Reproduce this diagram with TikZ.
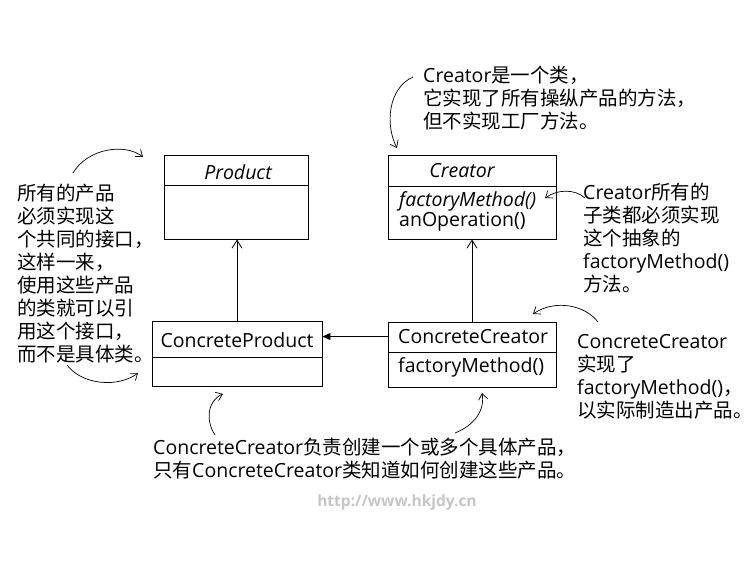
\documentclass[tikz,border=0pt]{standalone}
\usepackage{fontspec}
\setmainfont{Open Sans}
\newfontfamily\cjkf{Noto Sans CJK SC}
\newcommand\zhs[1]{{\cjkf #1}}
\usetikzlibrary{arrows.meta,calc}
\tikzset{
  txt/.style={inner sep=0pt, font=\fontsize{19.5}{23}\selectfont, align=left},
  cls/.style={draw, line width=0.9pt, inner sep=0pt},
  inherit/.style={line width=0.8pt, -{Straight Barb[length=8pt,width=10pt,line width=0.8pt]}},
  assoc/.style={line width=0.8pt, -{Triangle[length=8pt,width=7pt]}},
  note/.style={line width=0.7pt, -{Straight Barb[length=6pt,width=9pt,line width=0.7pt]}},
  wm/.style={inner sep=0pt, font=\fontsize{15.5}{17}\selectfont\bfseries, text=gray!45}
}
\begin{document}
\begin{tikzpicture}[x=1pt,y=-1pt]
\useasboundingbox[fill=white] (0,0) rectangle (756,567);
% class boxes
\node[cls, minimum width=144pt, minimum height=84pt] (product) at (236,197) {};
\node[cls, minimum width=168pt, minimum height=84pt] (creator) at (472,197) {};
\node[cls, minimum width=170pt, minimum height=65pt] (cprod) at (237,353.5) {};
\node[cls, minimum width=168pt, minimum height=65pt] (ccreator) at (472,354.5) {};
\draw[line width=0.9pt] (product.west |- 0,185) -- (product.east |- 0,185);
\draw[line width=0.9pt] (creator.west |- 0,186) -- (creator.east |- 0,186);
\draw[line width=0.9pt] (cprod.west |- 0,357) -- (cprod.east |- 0,357);
\draw[line width=0.9pt] (ccreator.west |- 0,352) -- (ccreator.east |- 0,352);
% class texts
\node[txt] (tproduct) at (238,172) {\itshape Product};
\node[txt] (tcreator) at (462,171) {\itshape Creator};
\node[txt, anchor=west] (tfm1) at (399,201) {\itshape factoryMethod()};
\node[txt, anchor=west] (tanop) at (399,222) {anOperation()};
\node[txt] (tcprod) at (237,340) {ConcreteProduct};
\node[txt, anchor=west] (tccreator) at (398,337) {ConcreteCreator};
\node[txt, anchor=west] (tfm2) at (398,367) {factoryMethod()};
% connectors
\draw[inherit] (cprod.north) -- (cprod.north |- product.south);
\draw[inherit] (ccreator.north) -- (ccreator.north |- creator.south);
\coordinate (assocstart) at ($(ccreator.north west)+(0,15)$);
\draw[assoc] (assocstart) -- (cprod.east |- assocstart);
% notes
\node[txt, anchor=north west] (nleft) at (17,184) {\zhs{所有的产品}\\\zhs{必须实现这}\\\zhs{个共同的接口，}\\\zhs{这样一来，}\\\zhs{使用这些产品}\\\zhs{的类就可以引}\\\zhs{用这个接口，}\\\zhs{而不是具体类。}};
\node[txt, anchor=north west] (ntop) at (423,66) {Creator\zhs{是一个类，}\\\zhs{它实现了所有操纵产品的方法，}\\\zhs{但不实现工厂方法。}};
\node[txt, anchor=north west] (nright) at (583,183) {Creator\zhs{所有的}\\\zhs{子类都必须实现}\\\zhs{这个抽象的}\\factoryMethod()\\\zhs{方法。}};
\node[txt, anchor=north west] (nright2) at (577,334) {ConcreteCreator\\\zhs{实现了}\\factoryMethod()\zhs{，}\\\zhs{以实际制造出产品。}};
\node[txt, anchor=north west] (nbottom) at (153,438) {ConcreteCreator\zhs{负责创建一个或多个具体产品，}\\\zhs{只有}ConcreteCreator\zhs{类知道如何创建这些产品。}};
\node[wm] (watermark) at (397,502) {http://www.hkjdy.cn};
% note arrows
\coordinate (a1s) at (73,173); \coordinate (a1e) at (143,157);
\draw[note] (a1s) .. controls (88,148) and (125,143) .. (a1e);
\coordinate (a2s) at (67,365); \coordinate (a2e) at (138,373);
\draw[note] (a2s) .. controls (82,385) and (118,388) .. (a2e);
\coordinate (a3s) at (413,77); \coordinate (a3e) at (397,148);
\draw[note] (a3s) .. controls (388,88) and (385,125) .. (a3e);
\coordinate (a4s) at (585,198); \coordinate (a4e) at (545,198);
\draw[note] (a4s) .. controls (575,189) and (558,189) .. (a4e);
\coordinate (a5s) at (598,322); \coordinate (a5e) at (533,314);
\draw[note] (a5s) .. controls (585,305) and (555,299) .. (a5e);
\coordinate (a6s) at (215,435); \coordinate (a6e) at (223,394);
\draw[note] (a6s) .. controls (205,420) and (208,400) .. (a6e);
\coordinate (a7s) at (455,433); \coordinate (a7e) at (482,393);
\draw[note] (a7s) .. controls (475,425) and (485,410) .. (a7e);
\end{tikzpicture}
\end{document}
